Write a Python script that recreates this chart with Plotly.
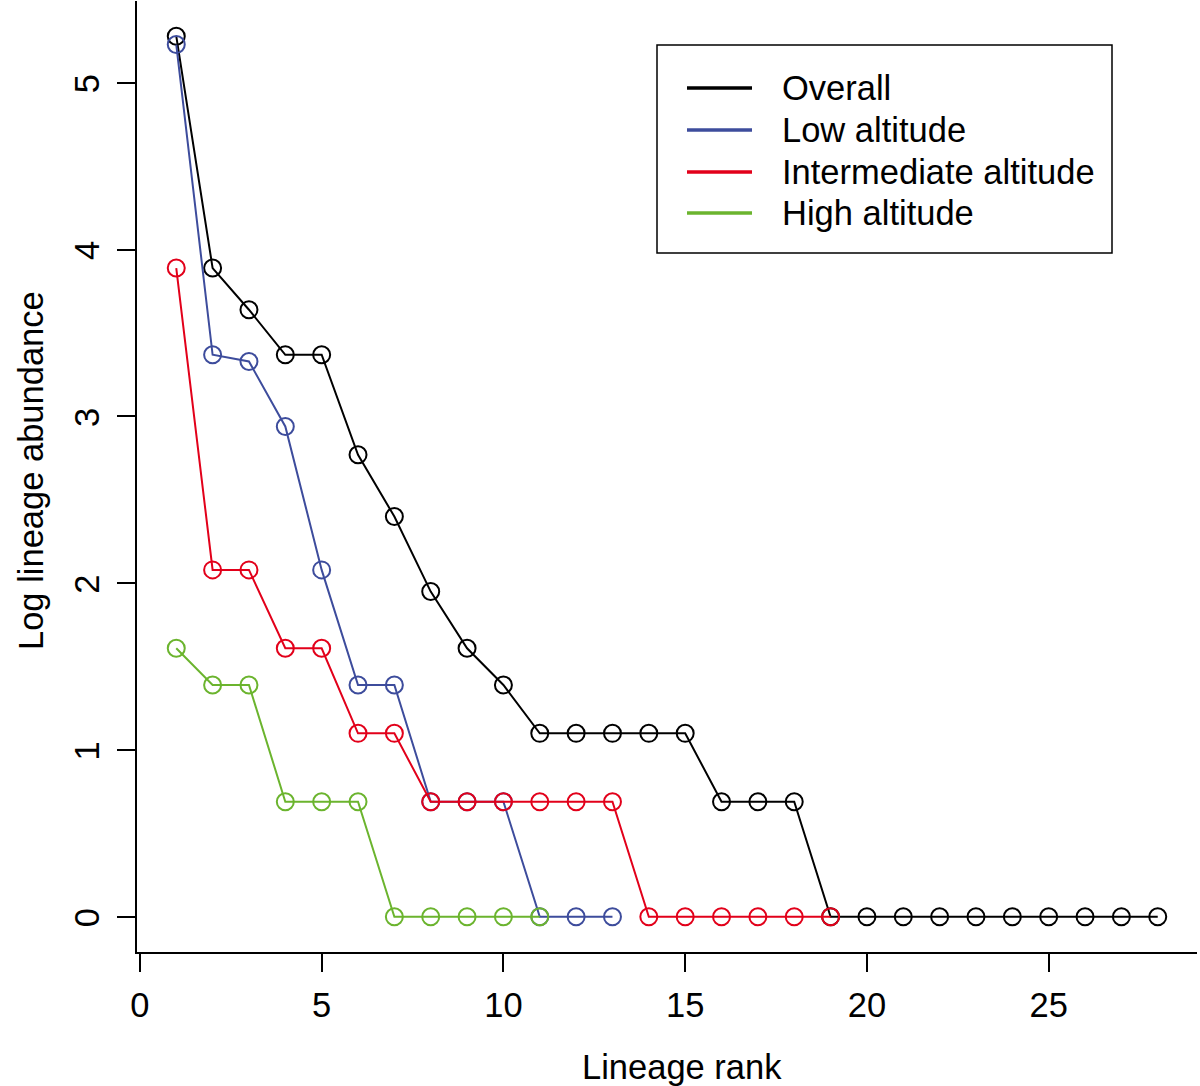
import plotly.graph_objects as go

overall = [5.28, 3.89, 3.64, 3.37, 3.37, 2.77, 2.40, 1.95, 1.61, 1.39,
           1.10, 1.10, 1.10, 1.10, 1.10, 0.69, 0.69, 0.69,
           0, 0, 0, 0, 0, 0, 0, 0, 0, 0]
low = [5.23, 3.37, 3.33, 2.94, 2.08, 1.39, 1.39, 0.69, 0.69, 0.69, 0, 0, 0]
intermediate = [3.89, 2.08, 2.08, 1.61, 1.61, 1.10, 1.10,
                0.69, 0.69, 0.69, 0.69, 0.69, 0.69, 0, 0, 0, 0, 0, 0]
high = [1.61, 1.39, 1.39, 0.69, 0.69, 0.69, 0, 0, 0, 0, 0]

series_names = ["Overall", "Low altitude", "Intermediate altitude", "High altitude"]
series_values = [overall, low, intermediate, high]
series_colors = ["#000000", "#3D4C9C", "#E2001A", "#6BB42E"]

x_ticks = [0, 5, 10, 15, 20, 25]
y_ticks = [0, 1, 2, 3, 4, 5]

FONT = "Liberation Sans, Arial, Helvetica, sans-serif"
FS = 34.5

fig = go.Figure()
for name, vals, col in zip(series_names, series_values, series_colors):
    fig.add_trace(go.Scatter(
        x=list(range(1, len(vals) + 1)), y=vals, name=name,
        mode="lines+markers",
        line=dict(color=col, width=2),
        marker=dict(symbol="circle-open", size=17, color=col, line=dict(width=2, color=col)),
        showlegend=False,
    ))

# Legend drawn R-style (lines only in a box)
W, H = 1200, 1086
L, R, T, B = 137, 3, 1, 134
pw, ph = W - L - R, H - T - B


def px(x):
    return (x - L) / pw


def py(y):
    return (H - B - y) / ph


shapes = [dict(type="rect", xref="paper", yref="paper",
               x0=px(657), x1=px(1112), y0=py(253), y1=py(45),
               line=dict(color="black", width=1.5), fillcolor="white", layer="above")]
annotations = []
rows = [88, 130, 172, 213]
for name, col, yy in zip(series_names, series_colors, rows):
    shapes.append(dict(type="line", xref="paper", yref="paper",
                       x0=px(687), x1=px(752), y0=py(yy), y1=py(yy),
                       line=dict(color=col, width=3.5), layer="above"))
    annotations.append(dict(xref="paper", yref="paper", x=px(780), y=py(yy),
                            text=name, showarrow=False, xanchor="left", yanchor="middle",
                            font=dict(family=FONT, size=FS, color="black")))

# axis titles
annotations.append(dict(xref="paper", yref="paper", x=px(682), y=py(1067),
                        text="Lineage rank", showarrow=False, xanchor="center", yanchor="middle",
                        font=dict(family=FONT, size=FS, color="black")))
annotations.append(dict(xref="paper", yref="paper", x=px(31), y=py(471),
                        text="Log lineage abundance", showarrow=False, textangle=-90,
                        xanchor="center", yanchor="middle",
                        font=dict(family=FONT, size=FS, color="black")))

fig.update_layout(
    width=W, height=H,
    margin=dict(l=L, r=R, t=T, b=B, autoexpand=False),
    paper_bgcolor="white", plot_bgcolor="white",
    font=dict(family=FONT, size=FS, color="black"),
    shapes=shapes, annotations=annotations,
    xaxis=dict(range=[-0.08, 29.08], tickvals=x_ticks, ticktext=[str(v) for v in x_ticks],
               showgrid=False, zeroline=False, showline=True, linecolor="black", linewidth=2,
               ticks="outside", ticklen=18, tickwidth=2, tickcolor="black",
               tickfont=dict(size=FS), automargin=False, ticklabelstandoff=4),
    yaxis=dict(range=[-0.2112, 5.4912], tickvals=y_ticks, ticktext=[str(v) for v in y_ticks],
               showgrid=False, zeroline=False, showline=True, linecolor="black", linewidth=2,
               ticks="outside", ticklen=18, tickwidth=2, tickcolor="black",
               tickangle=-90, tickfont=dict(size=FS), automargin=False, ticklabelstandoff=4,
               ticklabelshift=6),
)

fig.write_html("out.html", config={"displayModeBar": False},
               post_script="document.body.style.margin='0';document.body.style.overflow='hidden';")
